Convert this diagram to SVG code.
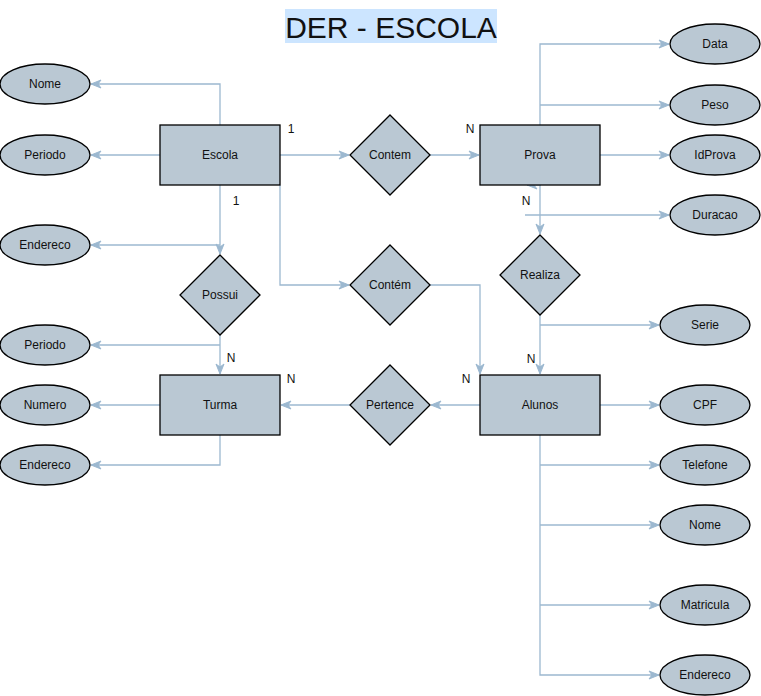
<svg xmlns="http://www.w3.org/2000/svg" width="761" height="696" viewBox="0 0 761 696">
<style>
.ent{fill:#bac8d3;stroke:#000;stroke-width:1.3}
.attr{fill:#bac8d3;stroke:#000;stroke-width:1.3}
.rel{fill:#bac8d3;stroke:#000;stroke-width:1.3}
.e{fill:none;stroke:#9cb8d0;stroke-width:1.3}
text{font-family:"Liberation Sans",Arial,sans-serif;font-size:12px;fill:#111;text-anchor:middle;dominant-baseline:central}
.card{text-anchor:middle}
</style>
<defs>
<marker id="a" markerUnits="userSpaceOnUse" markerWidth="12" markerHeight="10" viewBox="0 0 12 10" refX="11" refY="5" orient="auto">
<path d="M1,1 L11,5 L1,9 L4,5 z" fill="#9cb8d0" stroke="#9cb8d0" stroke-width="1"/>
</marker>
</defs>
<rect x="285" y="9" width="212" height="34" fill="#cce5ff"/>
<text x="391" y="27" style="font-size:30px">DER - ESCOLA</text>
<g id="connectors">
<path class="e" d="M220,125 V84 H91" marker-end="url(#a)"/>
<path class="e" d="M160,155 H91" marker-end="url(#a)"/>
<path class="e" d="M280,155 H349" marker-end="url(#a)"/>
<path class="e" d="M430,155 H479" marker-end="url(#a)"/>
<path class="e" d="M540,125 V44 H669" marker-end="url(#a)"/>
<path class="e" d="M540,105 H669" marker-end="url(#a)"/>
<path class="e" d="M600,155 H669" marker-end="url(#a)"/>
<path class="e" d="M525,215 H669" marker-end="url(#a)"/>
<path class="e" d="M541,185 H527" marker-end="url(#a)"/>
<path class="e" d="M540,185 V234" marker-end="url(#a)"/>
<path class="e" d="M220,185 V254" marker-end="url(#a)"/>
<path class="e" d="M220,245 H91" marker-end="url(#a)"/>
<path class="e" d="M280,185 V285 H349" marker-end="url(#a)"/>
<path class="e" d="M430,285 H480 V374" marker-end="url(#a)"/>
<path class="e" d="M540,315 V374" marker-end="url(#a)"/>
<path class="e" d="M540,325 H659" marker-end="url(#a)"/>
<path class="e" d="M220,335 V374" marker-end="url(#a)"/>
<path class="e" d="M220,345 H91" marker-end="url(#a)"/>
<path class="e" d="M480,405 H431" marker-end="url(#a)"/>
<path class="e" d="M350,405 H281" marker-end="url(#a)"/>
<path class="e" d="M160,405 H91" marker-end="url(#a)"/>
<path class="e" d="M220,435 V465 H91" marker-end="url(#a)"/>
<path class="e" d="M600,405 H659" marker-end="url(#a)"/>
<path class="e" d="M540,435 V675 H659" marker-end="url(#a)"/>
<path class="e" d="M540,465 H659" marker-end="url(#a)"/>
<path class="e" d="M540,525 H659" marker-end="url(#a)"/>
<path class="e" d="M540,605 H659" marker-end="url(#a)"/>
</g>
<g id="escola"><rect class="ent" x="160" y="125" width="120" height="60"/><text x="220" y="155">Escola</text></g>
<g id="prova"><rect class="ent" x="480" y="125" width="120" height="60"/><text x="540" y="155">Prova</text></g>
<g id="turma"><rect class="ent" x="160" y="375" width="120" height="60"/><text x="220" y="405">Turma</text></g>
<g id="alunos"><rect class="ent" x="480" y="375" width="120" height="60"/><text x="540" y="405">Alunos</text></g>
<g id="contem"><path class="rel" d="M390,115 L430,155 L390,195 L350,155 z"/><text x="390" y="155">Contem</text></g>
<g id="contem2"><path class="rel" d="M390,245 L430,285 L390,325 L350,285 z"/><text x="390" y="285">Contém</text></g>
<g id="possui"><path class="rel" d="M220,255 L260,295 L220,335 L180,295 z"/><text x="220" y="295">Possui</text></g>
<g id="realiza"><path class="rel" d="M540,235 L580,275 L540,315 L500,275 z"/><text x="540" y="275">Realiza</text></g>
<g id="pertence"><path class="rel" d="M390,365 L430,405 L390,445 L350,405 z"/><text x="390" y="405">Pertence</text></g>
<g id="esc-nome"><ellipse class="attr" cx="45" cy="84" rx="45" ry="20"/><text x="45" y="84">Nome</text></g>
<g id="esc-periodo"><ellipse class="attr" cx="45" cy="155" rx="45" ry="20"/><text x="45" y="155">Periodo</text></g>
<g id="esc-endereco"><ellipse class="attr" cx="45" cy="245" rx="45" ry="20"/><text x="45" y="245">Endereco</text></g>
<g id="tur-periodo"><ellipse class="attr" cx="45" cy="345" rx="45" ry="20"/><text x="45" y="345">Periodo</text></g>
<g id="tur-numero"><ellipse class="attr" cx="45" cy="405" rx="45" ry="20"/><text x="45" y="405">Numero</text></g>
<g id="tur-endereco"><ellipse class="attr" cx="45" cy="465" rx="45" ry="20"/><text x="45" y="465">Endereco</text></g>
<g id="pro-data"><ellipse class="attr" cx="715" cy="44" rx="45" ry="20"/><text x="715" y="44">Data</text></g>
<g id="pro-peso"><ellipse class="attr" cx="715" cy="105" rx="45" ry="20"/><text x="715" y="105">Peso</text></g>
<g id="pro-idprova"><ellipse class="attr" cx="715" cy="155" rx="45" ry="20"/><text x="715" y="155">IdProva</text></g>
<g id="pro-duracao"><ellipse class="attr" cx="715" cy="215" rx="45" ry="20"/><text x="715" y="215">Duracao</text></g>
<g id="alu-serie"><ellipse class="attr" cx="705" cy="325" rx="45" ry="20"/><text x="705" y="325">Serie</text></g>
<g id="alu-cpf"><ellipse class="attr" cx="705" cy="405" rx="45" ry="20"/><text x="705" y="405">CPF</text></g>
<g id="alu-telefone"><ellipse class="attr" cx="705" cy="465" rx="45" ry="20"/><text x="705" y="465">Telefone</text></g>
<g id="alu-nome"><ellipse class="attr" cx="705" cy="525" rx="45" ry="20"/><text x="705" y="525">Nome</text></g>
<g id="alu-matricula"><ellipse class="attr" cx="705" cy="605" rx="45" ry="20"/><text x="705" y="605">Matricula</text></g>
<g id="alu-endereco"><ellipse class="attr" cx="705" cy="675" rx="45" ry="20"/><text x="705" y="675">Endereco</text></g>
<g id="cardinalities">
<text x="291" y="129">1</text>
<text x="236" y="201">1</text>
<text x="470" y="129">N</text>
<text x="526" y="201">N</text>
<text x="231" y="358">N</text>
<text x="291" y="379">N</text>
<text x="466" y="379">N</text>
<text x="531" y="359">N</text>
</g>
</svg>
